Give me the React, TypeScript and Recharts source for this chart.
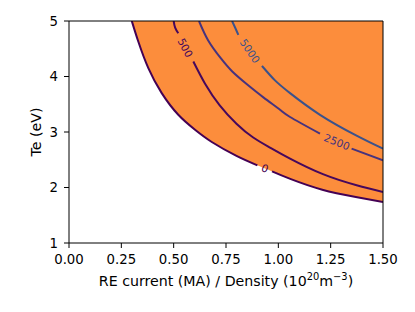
import React from "react";
import {
  ComposedChart,
  XAxis,
  YAxis,
  Area,
  Line,
  ReferenceLine,
  ReferenceDot,
} from "recharts";

const xTicks = [0, 0.25, 0.5, 0.75, 1.0, 1.25, 1.5];
const yTicks = [1, 2, 3, 4, 5];

// contour level 0 (boundary of the filled region); null = inline-label gap
const c0X = [0.3, 0.331, 0.379, 0.443, 0.522, 0.602, 0.682, 0.8, 0.9, 0.935, 0.97, 1.06, 1.21, 1.37, 1.5];
const c0Y = [5.0, 4.63, 4.15, 3.7, 3.31, 3.04, 2.82, 2.57, 2.4, null, 2.29, 2.15, 1.96, 1.83, 1.74];

const c500X = [0.5, 0.507, 0.522, 0.556, 0.594, 0.65, 0.72, 0.8, 0.88, 0.96, 1.056, 1.213, 1.374, 1.5];
const c500Y = [5.0, 4.88, 4.78, null, 4.27, 3.87, 3.48, 3.15, 2.9, 2.72, 2.52, 2.24, 2.04, 1.92];

const c2500X = [0.621, 0.665, 0.725, 0.78, 0.85, 0.93, 1.008, 1.056, 1.199, 1.28, 1.35, 1.5];
const c2500Y = [5.0, 4.65, 4.33, 4.09, 3.86, 3.62, 3.4, 3.27, 2.97, null, 2.7, 2.49];

const c5000X = [0.779, 0.795, 0.809, 0.865, 0.922, 0.984, 1.056, 1.199, 1.376, 1.5];
const c5000Y = [5.0, 4.87, 4.75, null, 4.19, 3.93, 3.7, 3.31, 2.93, 2.7];

const levelNames = ["0", "500", "2500", "5000"];
const labelX = [0.936, 0.556, 1.28, 0.865];
const labelY = [2.35, 4.52, 2.825, 4.46];
const labelAngle = [20, 62, 22, 55];
const levelColors = ["#440154", "#46085c", "#46337e", "#3b528b"];

const FONT = "DejaVu Sans, Liberation Sans, sans-serif";

const toPoints = (xs: number[], ys: (number | null)[]) =>
  xs.map((x, i) => ({ x, y: ys[i] }));

const contours = [
  toPoints(c0X, c0Y),
  toPoints(c500X, c500Y),
  toPoints(c2500X, c2500Y),
  toPoints(c5000X, c5000Y),
];

const areaData = c0X
  .map((x, i) => ({ x, y: c0Y[i] }))
  .filter((p) => p.y !== null)
  .map((p) => ({ x: p.x, range: [p.y as number, 5] }));

const XLabel = (props: any) => {
  const vb = props.viewBox || {};
  const cx = vb.x + vb.width / 2;
  const y = vb.y + 43;
  return (
    <text x={cx} y={y} textAnchor="middle" fontFamily={FONT} fontSize={14.2} fill="#000">
      <tspan>RE current (MA) / Density (10</tspan>
      <tspan dy={-5.8} fontSize={9.9}>20</tspan>
      <tspan dy={5.8}>m</tspan>
      <tspan dy={-5.8} fontSize={9.9}>{"\u22123"}</tspan>
      <tspan dy={5.8}>)</tspan>
    </text>
  );
};

const YLabel = (props: any) => {
  const vb = props.viewBox || {};
  const x = vb.x + 28;
  const y = vb.y + vb.height / 2;
  return (
    <text
      x={x}
      y={y}
      textAnchor="middle"
      dominantBaseline="central"
      transform={`rotate(-90 ${x} ${y})`}
      fontFamily={FONT}
      fontSize={14.2}
      fill="#000"
    >
      Te (eV)
    </text>
  );
};

const makeLabelShape = (i: number) => (props: any) => {
  const { cx, cy } = props;
  return (
    <text
      x={cx}
      y={cy}
      textAnchor="middle"
      dominantBaseline="central"
      transform={`rotate(${labelAngle[i]} ${cx} ${cy})`}
      fontFamily={FONT}
      fontSize={10.5}
      fill={levelColors[i]}
    >
      {levelNames[i]}
    </text>
  );
};

export default function App() {
  return (
    <ComposedChart
      width={399}
      height={296}
      margin={{ top: 13, right: 24, bottom: 0, left: 0 }}
    >
      <XAxis
        type="number"
        dataKey="x"
        domain={[0, 1.5]}
        ticks={xTicks}
        tickFormatter={(v: number) => v.toFixed(2)}
        height={61}
        tickSize={5}
        tickMargin={7}
        stroke="#000"
        tick={{ fill: "#000", fontSize: 13.3, fontFamily: FONT }}
        label={<XLabel />}
        allowDataOverflow
      />
      <YAxis
        type="number"
        domain={[1, 5]}
        ticks={yTicks}
        width={61}
        tickSize={5}
        tickMargin={6}
        stroke="#000"
        tick={{ fill: "#000", fontSize: 13.3, fontFamily: FONT }}
        label={<YLabel />}
        allowDataOverflow
      />
      <Area
        data={areaData}
        dataKey="range"
        type="natural"
        fill="#fc8d3c"
        fillOpacity={1}
        stroke="none"
        isAnimationActive={false}
      />
      {contours.map((pts, i) => (
        <Line
          key={levelNames[i]}
          data={pts}
          dataKey="y"
          type="natural"
          stroke={levelColors[i]}
          strokeWidth={2}
          dot={false}
          activeDot={false}
          isAnimationActive={false}
        />
      ))}
      <ReferenceLine y={5} stroke="#000" strokeWidth={1} />
      <ReferenceLine x={1.5} stroke="#000" strokeWidth={1} />
      {levelNames.map((n, i) => (
        <ReferenceDot
          key={"lbl" + n}
          x={labelX[i]}
          y={labelY[i]}
          r={0}
          shape={makeLabelShape(i)}
        />
      ))}
    </ComposedChart>
  );
}
